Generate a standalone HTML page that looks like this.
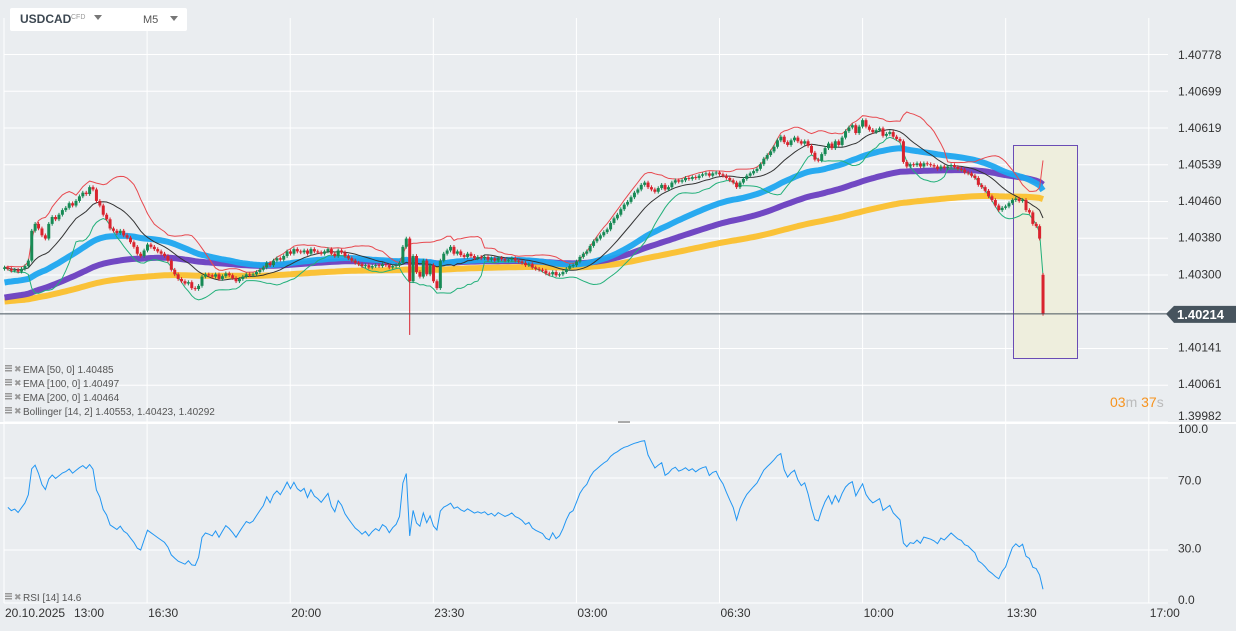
<!DOCTYPE html>
<html><head><meta charset="utf-8">
<style>
html,body{margin:0;padding:0;background:#eaedf0;width:1236px;height:631px;overflow:hidden;font-family:"Liberation Sans",sans-serif;}
svg{position:absolute;left:0;top:0}
#hdr{position:absolute;left:10px;top:8px;width:177px;height:23px;background:#fff;border-radius:2px;}
</style></head><body>
<svg id="chart" width="1236" height="631"></svg>
<div id="hdr">
  <span style="position:absolute;left:10px;top:4px;font-weight:bold;font-size:12px;color:#3d4852">USDCAD</span>
  <span style="position:absolute;left:61px;top:6px;font-size:7px;color:#999">CFD</span>
  <span style="position:absolute;left:84px;top:7px;width:0;height:0;border-left:4px solid transparent;border-right:4px solid transparent;border-top:5px solid #777"></span>
  <span style="position:absolute;left:133px;top:6px;font-size:11px;color:#555">M5</span>
  <span style="position:absolute;left:160px;top:8px;width:0;height:0;border-left:4px solid transparent;border-right:4px solid transparent;border-top:5px solid #777"></span>
</div>
<script>
// closes in 1e-5 offsets from 1.40000
const closes=[315,312,308,310,306,312,318,330,395,410,400,385,378,410,425,420,430,440,445,455,450,460,470,478,475,490,485,460,450,430,420,400,395,390,395,385,380,370,360,345,340,352,365,360,355,350,345,340,330,310,300,290,285,280,283,270,268,275,295,300,298,295,300,290,296,302,298,292,285,290,295,300,298,300,305,310,315,325,320,330,335,332,340,350,345,355,350,348,352,345,355,350,348,345,350,355,345,340,352,348,340,335,330,325,322,318,320,315,318,320,318,322,320,315,318,320,325,360,378,285,340,305,295,330,300,320,285,270,330,345,352,360,345,350,342,338,345,340,335,338,335,338,332,335,330,336,333,330,332,335,330,328,325,320,322,315,312,310,308,302,300,305,298,300,305,312,318,320,328,338,345,350,362,372,378,385,392,398,412,422,430,442,452,458,468,478,485,495,500,490,485,480,488,495,485,490,500,505,502,505,510,508,512,510,515,518,520,515,520,522,518,515,510,505,500,490,500,508,515,520,525,530,540,552,560,568,578,592,600,588,582,592,598,590,585,590,580,565,550,548,562,575,585,575,590,582,598,612,620,625,608,622,636,622,615,610,614,618,602,606,610,600,595,590,545,535,540,538,542,535,542,540,538,535,530,535,532,535,538,534,530,528,522,520,515,510,495,490,482,470,462,450,440,445,448,455,462,465,460,462,440,435,410,405,378,214];
const lastOpen=299;
const spikeIndex=119, spikeLow=168;
const emaSeeds=[281,248,240];       // EMA50, EMA100, EMA200 starting values
const emaPeriods=[50,100,200];
const priceTicks=["1.40778","1.40699","1.40619","1.40539","1.40460","1.40380","1.40300","1.40141","1.40061","1.39982"];
const rsiTicks=[100,70,30,0];
const timeLabels=["13:00","16:30","20:00","23:30","03:00","06:30","10:00","13:30","17:00"];
const legendLines=["EMA [50,  0] 1.40485","EMA [100,  0] 1.40497","EMA [200,  0] 1.40464","Bollinger  [14,  2] 1.40553,  1.40423,  1.40292"];

const NS="http://www.w3.org/2000/svg";
const svg=document.getElementById('chart');
function el(t,a,p){const e=document.createElementNS(NS,t);for(const k in a)e.setAttribute(k,a[k]);(p||svg).appendChild(e);return e;}
const yP=v=>55+(778-v)*0.4589;
const xB=i=>4.5+i*3.405;
const yR=v=>600-v*1.71;
const N=closes.length;

// grid
const grid=el('g',{});


for(let k=0;k<9;k++){const x=4+k*143.1;el('line',{x1:x,y1:18,x2:x,y2:603,stroke:'#fff','stroke-width':1},grid);}
for(let k=0;k<11;k++){const y=54.5+k*36.75;el('line',{x1:4,y1:y,x2:1168,y2:y,stroke:'#fff','stroke-width':1},grid);}
[478,550,603].forEach(y=>el('line',{x1:4,y1:y,x2:1168,y2:y,stroke:'#fff','stroke-width':1},grid));
el('line',{x1:0,y1:423,x2:1236,y2:423,stroke:'#fff','stroke-width':2},grid);
el('rect',{x:618,y:421,width:12,height:2,fill:'#aaa'},grid);

// price axis labels
priceTicks.forEach((t,k)=>{const v=Math.round((parseFloat(t)-1.4)*1e5);const y=k==9?416:yP(v);
 const tx=el('text',{x:1178,y:y+4,'font-size':12,fill:'#333'});tx.textContent=t;
 
 });
rsiTicks.forEach(v=>{const tx=el('text',{x:1178,y:yR(v)+4,'font-size':12,fill:'#333'});tx.textContent=v.toFixed(1);
 
 });
// time labels
{const tx=el('text',{x:5,y:617,'font-size':12,fill:'#333'});tx.textContent="20.10.2025";
 
 }
timeLabels.forEach((t,k)=>{const x=k==0?74:4+k*143.1+1;const tx=el('text',{x:x,y:617,'font-size':12,fill:'#333'});tx.textContent=t;
 
 });

// highlight rectangle
const hr=el('rect',{x:1013.5,y:145.5,width:64,height:213,fill:'#eeeedd',stroke:'#6a4cb5','stroke-width':1});



// EMAs
const emaColors=['#1ea7ef','#6a3fc0','#fbc02d'];
const emaNames=['ema-50-line','ema-100-line','ema-200-line'];
[2,1,0].forEach(j=>{let e=emaSeeds[j];const a=2/(emaPeriods[j]+1);let pts=[];
 for(let i=0;i<N;i++){e=e+a*(closes[i]-e);pts.push(xB(i).toFixed(1)+','+yP(e).toFixed(1));}
 const pl=el('polyline',{points:pts.join(' '),fill:'none',stroke:emaColors[j],'stroke-width':6,'stroke-linejoin':'round','stroke-opacity':0.95});
 
 });

// Bollinger
let up=[],mid=[],lo=[];
for(let i=0;i<N;i++){const s=Math.max(0,i-13);const w=closes.slice(s,i+1);const m=w.reduce((a,b)=>a+b,0)/w.length;
 const sd=Math.sqrt(w.reduce((a,b)=>a+(b-m)*(b-m),0)/w.length);const x=xB(i).toFixed(1);
 up.push(x+','+yP(m+2*sd).toFixed(1));mid.push(x+','+yP(m).toFixed(1));lo.push(x+','+yP(m-2*sd).toFixed(1));}
[[up,'#e8494f','bollinger-upper'],[lo,'#22b07a','bollinger-lower'],[mid,'#333','bollinger-middle']].forEach(([p,c,n])=>{
 const pl=el('polyline',{points:p.join(' '),fill:'none',stroke:c,'stroke-width':1});
 
 });

// candles
const cg=el('g',{});


for(let i=0;i<N;i++){const o=i==N-1?lastOpen:(i==0?closes[0]-3:closes[i-1]);const c=closes[i];
 const hi=Math.max(o,c)+4;let lw=Math.min(o,c)-4;if(i==spikeIndex)lw=spikeLow;
 const col=c>=o?'#178a55':'#d9232e';const x=xB(i);
 el('line',{x1:x,y1:yP(hi),x2:x,y2:yP(lw),stroke:col,'stroke-width':1},cg);
 const r=el('rect',{x:x-1.5,y:yP(Math.max(o,c)),width:3,height:Math.max(1,Math.abs(yP(o)-yP(c))),fill:col},cg);
 
 }

// current price line & label
const cur=closes[N-1];
const cl=el('line',{x1:0,y1:yP(cur),x2:1168,y2:yP(cur),stroke:'#47545e','stroke-width':1});


const cp=el('polygon',{points:`1166,${yP(cur)} 1174,${yP(cur)-8} 1236,${yP(cur)-8} 1236,${yP(cur)+9} 1174,${yP(cur)+9}`,fill:'#47545e'});


{const tx=el('text',{x:1177,y:yP(cur)+5,'font-size':13,'font-weight':'bold',fill:'#fff'});tx.textContent=(1.4+cur/1e5).toFixed(5);
 
 }

// countdown
{const tx=el('text',{x:1110,y:407,'font-size':14});
 tx.innerHTML='<tspan fill="#f7931e">03</tspan><tspan fill="#bbb">m </tspan><tspan fill="#f7931e">37</tspan><tspan fill="#bbb">s</tspan>';
 
 }

// legend
legendLines.forEach((t,k)=>{const y=369+k*14;
 const g=el('g',{});
 
 
 el('rect',{x:5,y:y-4,width:7,height:1.5,fill:'#999'},g);el('rect',{x:5,y:y-1.5,width:7,height:1.5,fill:'#999'},g);el('rect',{x:5,y:y+1,width:7,height:1.5,fill:'#999'},g);
 const x=el('text',{x:14,y:y+3,'font-size':9,fill:'#999'},g);x.textContent='✖';
 const tx=el('text',{x:23,y:y+4,'font-size':10,fill:'#555'},g);tx.textContent=t;});

// RSI
let ag=5,al=4,rp=[];
for(let i=1;i<N;i++){const d=closes[i]-closes[i-1];ag=(ag*13+Math.max(d,0))/14;al=(al*13+Math.max(-d,0))/14;
 const r=al==0?100:100-100/(1+ag/al);rp.push(xB(i).toFixed(1)+','+yR(r).toFixed(1));}
const rl=el('polyline',{points:rp.join(' '),fill:'none',stroke:'#2196f3','stroke-width':1});


{const g=el('g',{});
 
 
 el('rect',{x:5,y:593,width:7,height:1.5,fill:'#999'},g);el('rect',{x:5,y:595.5,width:7,height:1.5,fill:'#999'},g);el('rect',{x:5,y:598,width:7,height:1.5,fill:'#999'},g);
 const x=el('text',{x:14,y:600,'font-size':9,fill:'#999'},g);x.textContent='✖';
 const tx=el('text',{x:23,y:601,'font-size':10,fill:'#555'},g);tx.textContent='RSI  [14]  14.6';}
</script>
</body></html>
